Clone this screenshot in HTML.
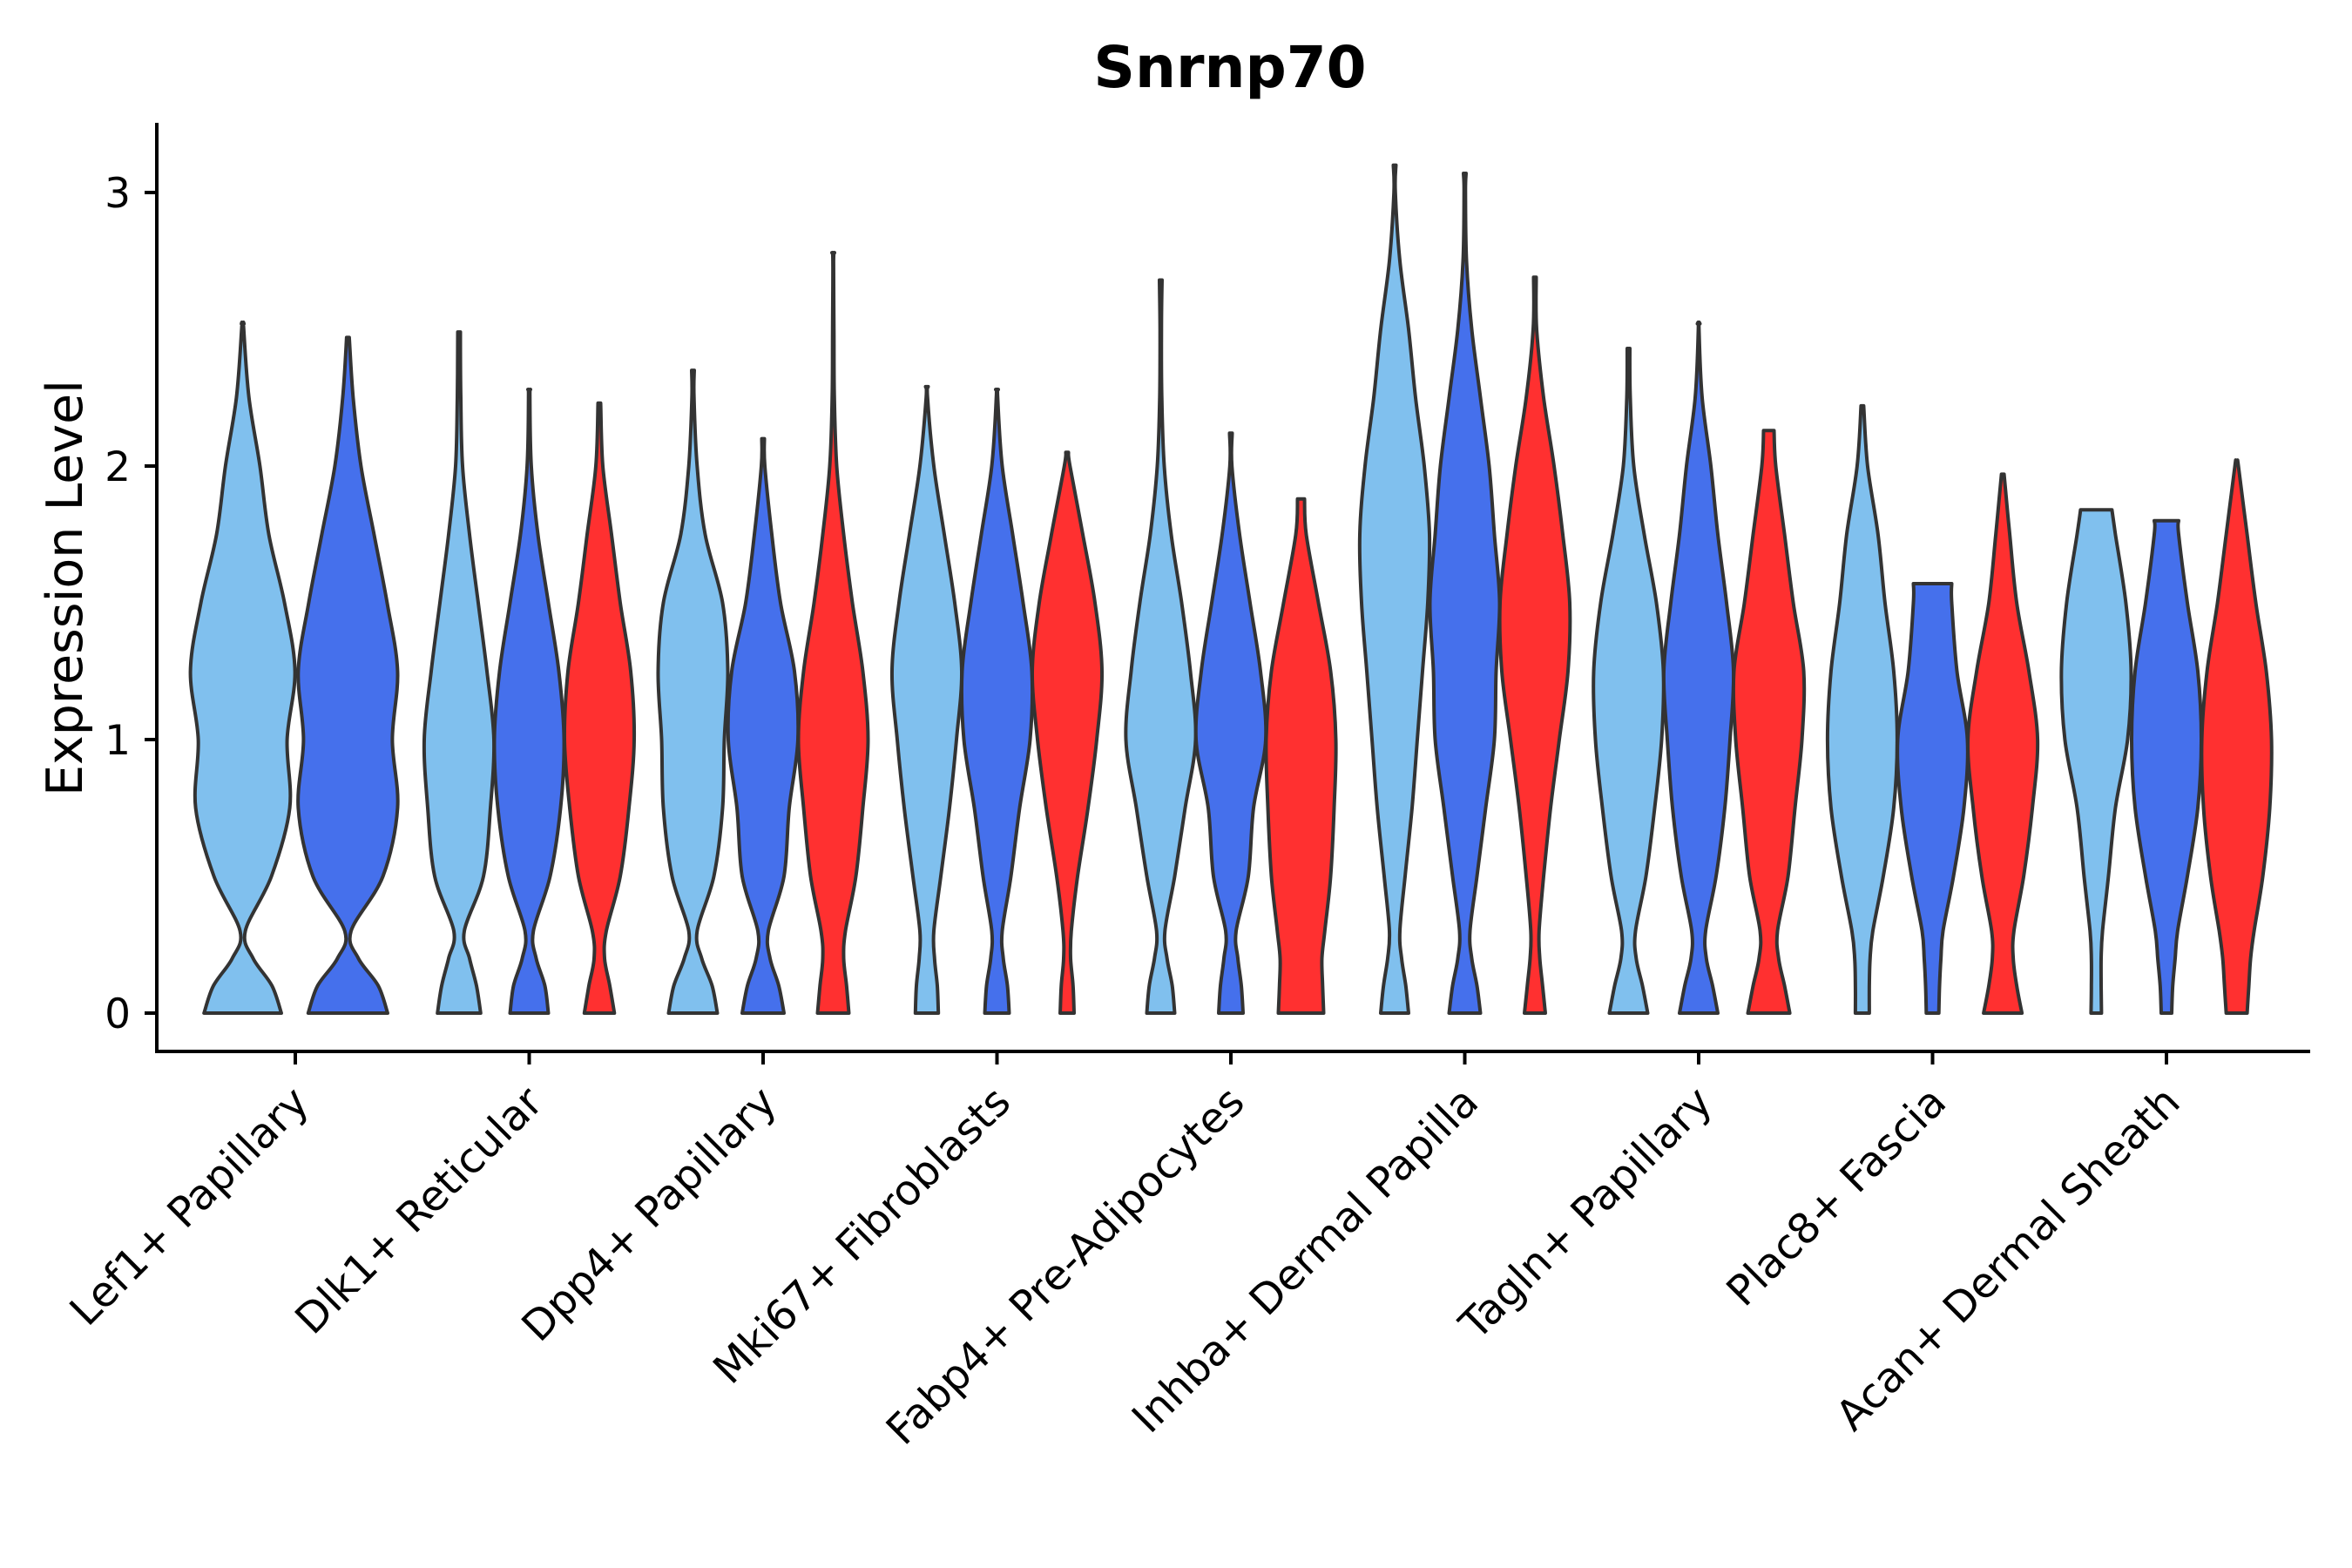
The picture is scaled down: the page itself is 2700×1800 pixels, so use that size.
<!DOCTYPE html>
<html><head><meta charset="utf-8"><style>
html,body{margin:0;padding:0;background:#fff;}
svg{display:block;font-family:"DejaVu Sans","Liberation Sans",sans-serif;}
</style></head><body>
<svg id="chart" width="2700" height="1800" viewBox="0 0 2700 1800" xmlns="http://www.w3.org/2000/svg">
<text x="1412" y="100" font-size="66" font-weight="bold" text-anchor="middle">Snrnp70</text>
<text transform="translate(94,675) rotate(-90)" font-size="57" text-anchor="middle">Expression Level</text>
<g id="plot"></g>
</svg>
<script>
const categories = ["Lef1+ Papillary","Dlk1+ Reticular","Dpp4+ Papillary","Mki67+ Fibroblasts","Fabp4+ Pre-Adipocytes","Inhba+ Dermal Papilla","Tagln+ Papillary","Plac8+ Fascia","Acan+ Dermal Sheath"];
const yTicks = [0,1,2,3];
const levels = [0,0.1,0.2,0.3,0.5,0.75,1,1.25,1.5,1.75,2,2.25,2.5,2.75,3];
const groupColors = ["#80C0EE","#4570EC","#FF3030"];
// per category: list of [groupIndex, maxValue, topWidth, widths at levels]
const violins = [
 [[0,2.52,0,[0.74,0.56,0.2,0.05,0.55,0.9,0.85,1.0,0.8,0.5,0.33,0.12,0.02]],
  [1,2.47,0,[0.76,0.58,0.2,0.06,0.67,0.95,0.85,0.95,0.75,0.5,0.25,0.1]]],
 [[0,2.49,0,[0.62,0.5,0.3,0.15,0.7,0.9,1.0,0.8,0.55,0.3,0.1,0.05,0.02]],
  [1,2.28,0,[0.55,0.45,0.2,0.12,0.6,0.9,1.0,0.85,0.55,0.25,0.06,0.02]],
  [2,2.23,0,[0.43,0.3,0.15,0.2,0.6,0.85,1.0,0.9,0.6,0.35,0.1,0.02]]],
 [[0,2.35,0,[0.7,0.55,0.25,0.12,0.6,0.85,0.9,1.0,0.85,0.35,0.12,0.03]],
  [1,2.1,0,[0.6,0.45,0.2,0.15,0.6,0.75,1.0,0.9,0.5,0.25,0.05]],
  [2,2.78,0,[0.45,0.38,0.3,0.35,0.65,0.85,1.0,0.85,0.55,0.3,0.1,0.03,0.02,0.01]]],
 [[0,2.29,0,[0.33,0.3,0.22,0.2,0.4,0.65,0.85,1.0,0.8,0.5,0.2,0.02]],
  [1,2.28,0,[0.35,0.3,0.18,0.15,0.4,0.65,0.95,1.0,0.75,0.45,0.15,0.02]],
  [2,2.05,0,[0.2,0.17,0.1,0.12,0.3,0.6,0.85,1.0,0.8,0.45,0.08]]],
 [[0,2.68,0,[0.4,0.33,0.18,0.12,0.4,0.7,1.0,0.85,0.6,0.3,0.1,0.03,0.02]],
  [1,2.12,0,[0.35,0.3,0.2,0.15,0.5,0.65,1.0,0.85,0.55,0.25,0.03]],
  [2,1.88,0.1,[0.65,0.62,0.6,0.68,0.85,0.95,1.0,0.85,0.5,0.15]]],
 [[0,3.1,0,[0.4,0.32,0.2,0.15,0.3,0.5,0.65,0.8,0.95,1.0,0.85,0.6,0.4,0.15,0.02]],
  [1,3.07,0,[0.45,0.35,0.2,0.15,0.35,0.6,0.85,0.9,1.0,0.85,0.7,0.45,0.2,0.05,0.02]],
  [2,2.69,0,[0.3,0.22,0.14,0.12,0.25,0.45,0.7,0.95,1.0,0.8,0.55,0.25,0.05]]],
 [[0,2.43,0,[0.55,0.4,0.22,0.2,0.5,0.75,0.95,1.0,0.8,0.45,0.15,0.05]],
  [1,2.52,0,[0.55,0.4,0.22,0.2,0.5,0.75,0.9,1.0,0.8,0.55,0.35,0.1,0.01]],
  [2,2.13,0.15,[0.6,0.45,0.28,0.25,0.55,0.75,0.95,1.0,0.7,0.45,0.2]]],
 [[0,2.22,0,[0.2,0.2,0.22,0.3,0.6,0.9,1.0,0.9,0.65,0.45,0.15]],
  [1,1.57,0.55,[0.18,0.2,0.24,0.3,0.6,0.9,1.0,0.7,0.55]],
  [2,1.97,0,[0.55,0.4,0.3,0.32,0.6,0.85,1.0,0.75,0.4,0.2]]],
 [[0,1.84,0.45,[0.15,0.14,0.14,0.18,0.35,0.55,0.9,1.0,0.85,0.55]],
  [1,1.8,0.35,[0.15,0.18,0.25,0.32,0.6,0.9,1.0,0.9,0.6,0.35]],
  [2,2.01,0,[0.3,0.35,0.4,0.5,0.75,0.95,1.0,0.85,0.55,0.3,0.05]]]
];

const NS="http://www.w3.org/2000/svg";
const X0=339, STEP=268.5, Y0=1163, UNIT=314;
function xScale(i){return X0+i*STEP;}
function yScale(v){return Y0-v*UNIT;}
const plot=document.getElementById('plot');
function mk(tag,attrs){const e=document.createElementNS(NS,tag);for(const k in attrs)e.setAttribute(k,attrs[k]);plot.appendChild(e);return e;}

function smoothPath(pts){
  let d="";
  for(let i=0;i<pts.length-1;i++){
    const p0=pts[Math.max(0,i-1)],p1=pts[i],p2=pts[i+1],p3=pts[Math.min(pts.length-1,i+2)];
    const c1=[p1[0]+(p2[0]-p0[0])/6,p1[1]+(p2[1]-p0[1])/6];
    const c2=[p2[0]-(p3[0]-p1[0])/6,p2[1]-(p3[1]-p1[1])/6];
    d+=" C"+c1[0].toFixed(1)+","+c1[1].toFixed(1)+" "+c2[0].toFixed(1)+","+c2[1].toFixed(1)+" "+p2[0].toFixed(1)+","+p2[1].toFixed(1);
  }
  return d;
}

violins.forEach((grp,ci)=>{
  const n=grp.length;
  const hw = n===3?40:60;
  grp.forEach((v,k)=>{
    const [g,maxV,topW,ws]=v;
    const rel = n===3 ? (k-1)*0.3 : (k===0?-0.225:0.225);
    const cx=xScale(ci)+rel*STEP;
    const prof=[];
    ws.forEach((w,j)=>{ if(levels[j]<maxV) prof.push([levels[j],w]); });
    prof.push([maxV,topW]);
    const right=prof.map(p=>[cx+Math.max(0,p[1])*hw+(p[1]<=0?1.5:0), yScale(p[0])]);
    const left=prof.slice().reverse().map(p=>[cx-Math.max(0,p[1])*hw-(p[1]<=0?1.5:0), yScale(p[0])]);
    let d="M"+right[0][0].toFixed(1)+","+right[0][1].toFixed(1)+smoothPath(right);
    d+=" L"+left[0][0].toFixed(1)+","+left[0][1].toFixed(1)+smoothPath(left)+" Z";
    const p=mk('path',{d:d,fill:groupColors[g],stroke:"#333333","stroke-width":4,"stroke-linejoin":"round"});
    
    
  });
});

// axes
const ya=mk('line',{x1:180,y1:141,x2:180,y2:1209,stroke:"#000","stroke-width":4});


const xa=mk('line',{x1:178,y1:1207,x2:2652,y2:1207,stroke:"#000","stroke-width":4});


yTicks.forEach(t=>{
  const y=yScale(t);
  const l=mk('line',{x1:166,y1:y,x2:180,y2:y,stroke:"#000","stroke-width":4});
  
  
  const tx=mk('text',{x:150,y:y+17,"font-size":47,"text-anchor":"end"});
  tx.textContent=String(t);
  
  
});
categories.forEach((c,i)=>{
  const x=xScale(i);
  const l=mk('line',{x1:x,y1:1207,x2:x,y2:1222,stroke:"#000","stroke-width":4});
  
  
  const tx=mk('text',{transform:"translate("+(x+18)+",1268) rotate(-45)","font-size":48,"text-anchor":"end"});
  tx.textContent=c;
  
  
});
</script>
</body></html>
